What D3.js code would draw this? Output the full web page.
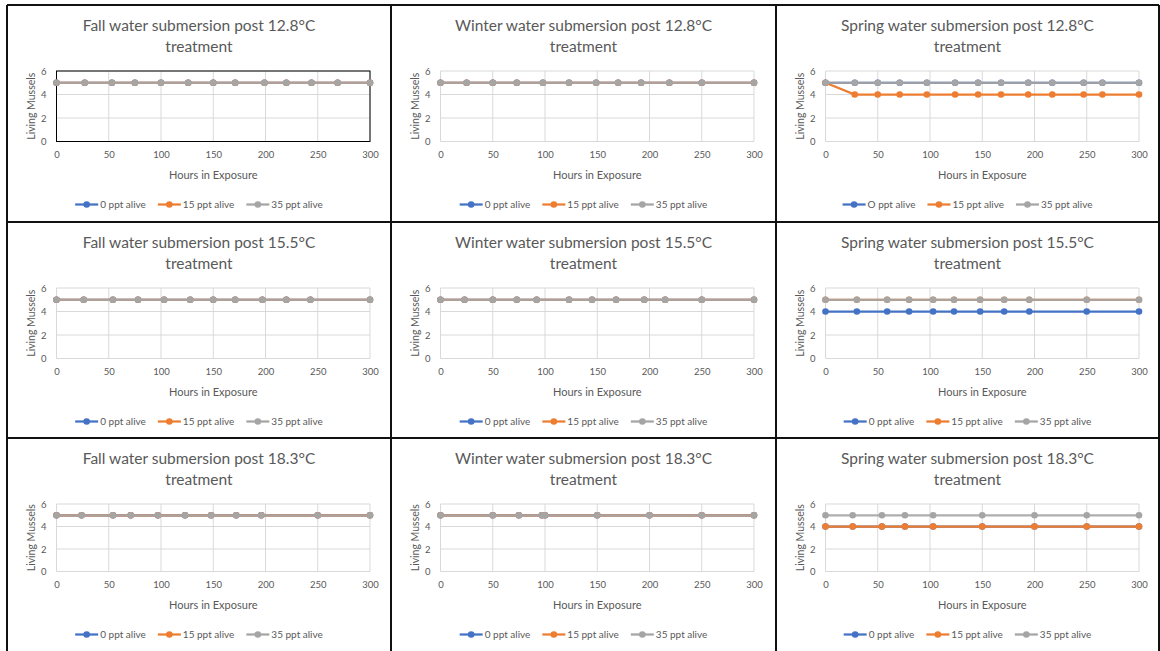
<!DOCTYPE html>
<html>
<head>
<meta charset="utf-8">
<script src="https://cdn.jsdelivr.net/npm/d3@7"></script>
<style>
  html, body { margin: 0; padding: 0; background: #fff; }
  svg { display: block; font-family: Lato, "Open Sans", sans-serif; }
</style>
</head>
<body>
<div id="chart"></div>
<script>
// Shared axis ticks and legend labels
const yTicks = [0, 2, 4, 6];
const xTicks = [0, 50, 100, 150, 200, 250, 300];
const legendLabels = ["0 ppt alive", "15 ppt alive", "35 ppt alive"];
const legendLabelsSpring128 = ["O ppt alive", "15 ppt alive", "35 ppt alive"];

// Fall water, post 12.8°C
const fall128Hours = [0, 27, 53, 75, 100, 126, 150, 171, 199, 220, 244, 269, 300];
const fall128Ppt0  = [5, 5, 5, 5, 5, 5, 5, 5, 5, 5, 5, 5, 5];
const fall128Ppt15 = [5, 5, 5, 5, 5, 5, 5, 5, 5, 5, 5, 5, 5];
const fall128Ppt35 = [5, 5, 5, 5, 5, 5, 5, 5, 5, 5, 5, 5, 5];

// Winter water, post 12.8°C
const winter128Hours = [0, 25, 50, 73, 98, 123, 149, 170, 192, 219, 250, 300];
const winter128Ppt0  = [5, 5, 5, 5, 5, 5, 5, 5, 5, 5, 5, 5];
const winter128Ppt15 = [5, 5, 5, 5, 5, 5, 5, 5, 5, 5, 5, 5];
const winter128Ppt35 = [5, 5, 5, 5, 5, 5, 5, 5, 5, 5, 5, 5];

// Spring water, post 12.8°C
const spring128Hours = [0, 28, 50, 71, 97, 124, 146, 168, 194, 217, 247, 265, 300];
const spring128Ppt0  = [5, 5, 5, 5, 5, 5, 5, 5, 5, 5, 5, 5, 5];
const spring128Ppt15 = [5, 4, 4, 4, 4, 4, 4, 4, 4, 4, 4, 4, 4];
const spring128Ppt35 = [5, 5, 5, 5, 5, 5, 5, 5, 5, 5, 5, 5, 5];

// Fall water, post 15.5°C
const fall155Hours = [0, 26, 54, 78, 103, 128, 150, 171, 197, 220, 243, 300];
const fall155Ppt0  = [5, 5, 5, 5, 5, 5, 5, 5, 5, 5, 5, 5];
const fall155Ppt15 = [5, 5, 5, 5, 5, 5, 5, 5, 5, 5, 5, 5];
const fall155Ppt35 = [5, 5, 5, 5, 5, 5, 5, 5, 5, 5, 5, 5];

// Winter water, post 15.5°C
const winter155Hours = [0, 23, 50, 73, 92, 123, 145, 168, 195, 215, 250, 300];
const winter155Ppt0  = [5, 5, 5, 5, 5, 5, 5, 5, 5, 5, 5, 5];
const winter155Ppt15 = [5, 5, 5, 5, 5, 5, 5, 5, 5, 5, 5, 5];
const winter155Ppt35 = [5, 5, 5, 5, 5, 5, 5, 5, 5, 5, 5, 5];

// Spring water, post 15.5°C
const spring155Hours = [0, 30, 59, 80, 103, 123, 148, 171, 195, 250, 300];
const spring155Ppt0  = [4, 4, 4, 4, 4, 4, 4, 4, 4, 4, 4];
const spring155Ppt15 = [5, 5, 5, 5, 5, 5, 5, 5, 5, 5, 5];
const spring155Ppt35 = [5, 5, 5, 5, 5, 5, 5, 5, 5, 5, 5];

// Fall water, post 18.3°C
const fall183Hours = [0, 24, 54, 71, 97, 123, 148, 172, 196, 250, 300];
const fall183Ppt0  = [5, 5, 5, 5, 5, 5, 5, 5, 5, 5, 5];
const fall183Ppt15 = [5, 5, 5, 5, 5, 5, 5, 5, 5, 5, 5];
const fall183Ppt35 = [5, 5, 5, 5, 5, 5, 5, 5, 5, 5, 5];

// Winter water, post 18.3°C
const winter183Hours = [0, 50, 75, 97, 100, 150, 200, 250, 300];
const winter183Ppt0  = [5, 5, 5, 5, 5, 5, 5, 5, 5];
const winter183Ppt15 = [5, 5, 5, 5, 5, 5, 5, 5, 5];
const winter183Ppt35 = [5, 5, 5, 5, 5, 5, 5, 5, 5];

// Spring water, post 18.3°C
const spring183Hours = [0, 26, 54, 76, 103, 150, 200, 250, 300];
const spring183Ppt0  = [4, 4, 4, 4, 4, 4, 4, 4, 4];
const spring183Ppt15 = [4, 4, 4, 4, 4, 4, 4, 4, 4];
const spring183Ppt35 = [5, 5, 5, 5, 5, 5, 5, 5, 5];

const panels = [
  { season: "Fall",   temp: "12.8", hours: fall128Hours,   series: [fall128Ppt0, fall128Ppt15, fall128Ppt35], labels: legendLabels, framed: true },
  { season: "Winter", temp: "12.8", hours: winter128Hours, series: [winter128Ppt0, winter128Ppt15, winter128Ppt35], labels: legendLabels },
  { season: "Spring", temp: "12.8", hours: spring128Hours, series: [spring128Ppt0, spring128Ppt15, spring128Ppt35], labels: legendLabelsSpring128 },
  { season: "Fall",   temp: "15.5", hours: fall155Hours,   series: [fall155Ppt0, fall155Ppt15, fall155Ppt35], labels: legendLabels },
  { season: "Winter", temp: "15.5", hours: winter155Hours, series: [winter155Ppt0, winter155Ppt15, winter155Ppt35], labels: legendLabels },
  { season: "Spring", temp: "15.5", hours: spring155Hours, series: [spring155Ppt0, spring155Ppt15, spring155Ppt35], labels: legendLabels },
  { season: "Fall",   temp: "18.3", hours: fall183Hours,   series: [fall183Ppt0, fall183Ppt15, fall183Ppt35], labels: legendLabels },
  { season: "Winter", temp: "18.3", hours: winter183Hours, series: [winter183Ppt0, winter183Ppt15, winter183Ppt35], labels: legendLabels },
  { season: "Spring", temp: "18.3", hours: spring183Hours, series: [spring183Ppt0, spring183Ppt15, spring183Ppt35], labels: legendLabels }
];

// Page layout: a 3x3 table of bordered cells
const W = 1160, H = 651;
const colEdges = [7, 391, 776, 1159];
const rowEdges = [5, 222, 438, 660];
const colors = ["#4472c4", "#ed7d31", "#a5a5a5"];
const textColor = "#595959";
const gridColor = "#d9d9d9";

const svg = d3.select("#chart").append("svg")
  .attr("width", W).attr("height", H);

panels.forEach((p, i) => {
  const col = i % 3, row = Math.floor(i / 3);
  const cx = colEdges[col], cy = rowEdges[row];
  const cellW = colEdges[col + 1] - colEdges[col];
  const plotL = 49.5, plotR = 363;
  const plotT = 66;
  const plotB = row === 2 ? 133.5 : 136.5;

  const g = svg.append("g").attr("transform", `translate(${cx},${cy})`);

  const x = d3.scaleLinear().domain([0, 300]).range([plotL, plotR]);
  const y = d3.scaleLinear().domain([0, 6]).range([plotB, plotT]);

  // Title (two lines)
  const title = g.append("text")
    .attr("text-anchor", "middle")
    .attr("fill", textColor)
    .style("font-size", "15.5px");
  title.append("tspan").attr("x", cellW / 2).attr("y", 26)
    .text(`${p.season} water submersion post ${p.temp}°C`);
  title.append("tspan").attr("x", cellW / 2).attr("y", 46.5)
    .text("treatment");

  // Gridlines
  g.append("g").selectAll("line").data(yTicks).join("line")
    .attr("x1", plotL).attr("x2", plotR)
    .attr("y1", d => y(d)).attr("y2", d => y(d))
    .attr("stroke", gridColor).attr("stroke-width", 1);
  g.append("g").selectAll("line").data(xTicks).join("line")
    .attr("x1", d => x(d)).attr("x2", d => x(d))
    .attr("y1", plotT).attr("y2", plotB)
    .attr("stroke", gridColor).attr("stroke-width", 1);

  if (p.framed) {
    g.append("rect")
      .attr("x", plotL).attr("y", plotT)
      .attr("width", plotR - plotL).attr("height", plotB - plotT)
      .attr("fill", "none").attr("stroke", "#000").attr("stroke-width", 1);
  }

  // Axes (labels only; lines come from the gridlines)
  const xAxis = g.append("g").attr("transform", `translate(0,${plotB})`)
    .call(d3.axisBottom(x).tickValues(xTicks).tickFormat(d3.format("d")).tickSize(0).tickPadding(10));
  const yAxis = g.append("g").attr("transform", `translate(${plotL},0)`)
    .call(d3.axisLeft(y).tickValues(yTicks).tickFormat(d3.format("d")).tickSize(0).tickPadding(10));
  [xAxis, yAxis].forEach(a => {
    a.select(".domain").remove();
    a.selectAll("text").attr("fill", textColor)
      .style("font-size", "9.5px").style("font-family", "Lato, 'Open Sans', sans-serif");
  });

  // Axis titles
  g.append("text")
    .attr("x", (plotL + plotR) / 2).attr("y", plotB + 37)
    .attr("text-anchor", "middle").attr("fill", textColor)
    .style("font-size", "11px")
    .text("Hours in Exposure");
  g.append("text")
    .attr("transform", `translate(28,${(plotT + plotB) / 2}) rotate(-90)`)
    .attr("text-anchor", "middle").attr("fill", textColor)
    .style("font-size", "10.5px")
    .text("Living Mussels");

  // Series: line then markers, drawn in order so the last one sits on top
  const line = d3.line().x(d => x(d[0])).y(d => y(d[1]));
  p.series.forEach((vals, s) => {
    const pts = p.hours.map((h, k) => [h, vals[k]]);
    const sg = g.append("g");
    sg.append("path").datum(pts)
      .attr("d", line)
      .attr("fill", "none")
      .attr("stroke", colors[s])
      .attr("stroke-width", 2.25)
      .attr("stroke-opacity", s === 2 ? 0.9 : 1);
    sg.selectAll("circle").data(pts).join("circle")
      .attr("cx", d => x(d[0])).attr("cy", d => y(d[1]))
      .attr("r", 3.3)
      .attr("fill", colors[s]);
  });

  // Legend, centred in the cell
  const legY = plotB + 63;
  const leg = g.append("g");
  const items = p.labels.map((lab, s) => {
    const it = leg.append("g");
    it.append("line").attr("x1", 0).attr("x2", 23).attr("y1", 0).attr("y2", 0)
      .attr("stroke", colors[s]).attr("stroke-width", 2.25);
    it.append("circle").attr("cx", 11.5).attr("cy", 0).attr("r", 3.3).attr("fill", colors[s]);
    const t = it.append("text").attr("x", 25).attr("y", 3.6)
      .attr("fill", textColor).style("font-size", "10px").text(lab);
    return { g: it, w: 25 + t.node().getComputedTextLength() };
  });
  const gap = 12;
  const total = d3.sum(items, d => d.w) + gap * (items.length - 1);
  let cursor = cellW / 2 - total / 2;
  items.forEach(d => {
    d.g.attr("transform", `translate(${cursor},${legY})`);
    cursor += d.w + gap;
  });
});

// Table borders
const border = svg.append("g").attr("stroke", "#111").attr("stroke-width", 2);
rowEdges.slice(0, 3).forEach(yy => {
  border.append("line").attr("x1", colEdges[0]).attr("x2", colEdges[3])
    .attr("y1", yy).attr("y2", yy);
});
colEdges.forEach(xx => {
  border.append("line").attr("x1", xx).attr("x2", xx)
    .attr("y1", rowEdges[0]).attr("y2", H);
});
</script>
</body>
</html>
